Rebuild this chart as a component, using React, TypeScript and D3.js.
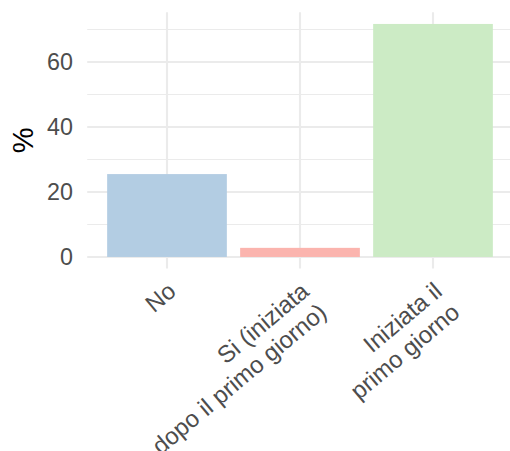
import React from "react";
import * as d3 from "d3";

const categories = ["No", "Si (iniziata\ndopo il primo giorno)", "Iniziata il\nprimo giorno"];
const values = [25.5, 2.8, 71.7];
const colors = ["#B3CDE3", "#FBB4AE", "#CCEBC5"];
const yTicks = [0, 20, 40, 60];
const yMinor = [10, 30, 50, 70];

const W = 510, H = 451;
const panel = { left: 87.2, right: 512.8, top: 12.3, bottom: 268.6 };
const FONT = "'Liberation Sans', Arial, Helvetica, sans-serif";
const ANGLE = 40;

export default function App() {
  const maxV = d3.max(values) as number;
  const y = d3.scaleLinear().domain([-maxV * 0.05, maxV * 1.05]).range([panel.bottom, panel.top]);
  const x = d3.scaleBand().domain(categories).range([panel.left, panel.right]).paddingInner(0.1).paddingOuter(0.15);
  const bw = x.bandwidth();
  const centers = categories.map((c) => (x(c) as number) + bw / 2);
  return (
    <svg width={W} height={H} style={{ position: "absolute", left: 0, top: 0, background: "#fff" }}>
      <g>
        {yMinor.map((t) => (
          <line key={"m" + t} x1={panel.left} x2={W} y1={y(t)} y2={y(t)} stroke="#EBEBEB" strokeWidth={1.1} />
        ))}
        {yTicks.map((t) => (
          <line key={"M" + t} x1={panel.left} x2={W} y1={y(t)} y2={y(t)} stroke="#EBEBEB" strokeWidth={2.1} />
        ))}
        {centers.map((cx, i) => (
          <line key={"v" + i} x1={cx} x2={cx} y1={panel.top} y2={panel.bottom} stroke="#EBEBEB" strokeWidth={2.1} />
        ))}
        {values.map((v, i) => (
          <rect key={i} x={x(categories[i])} width={bw} y={y(v)} height={y(0) - y(v)} fill={colors[i]} />
        ))}
        {yTicks.map((t) => (
          <text key={"t" + t} x={73} y={y(t)} dy="0.36em" textAnchor="end" fontFamily={FONT} fontSize={23.3} fill="#4D4D4D">
            {t}
          </text>
        ))}
        <text transform={`translate(${33},${(panel.top + panel.bottom) / 2}) rotate(-90)`} textAnchor="middle" fontFamily={FONT} fontSize={29} fill="#000">
          %
        </text>
        {categories.map((c, i) => {
          const lines = c.split("\n");
          return (
            <g key={"xl" + i} transform={`translate(${centers[i] - 1},${280}) rotate(${-ANGLE})`}>
              {lines.map((l, j) => (
                <text key={j} x={0} y={j * 27.5} dy="0.75em" textAnchor="end" fontFamily={FONT} fontSize={24} fill="#4D4D4D">
                  {l}
                </text>
              ))}
            </g>
          );
        })}
      </g>
    </svg>
  );
}
